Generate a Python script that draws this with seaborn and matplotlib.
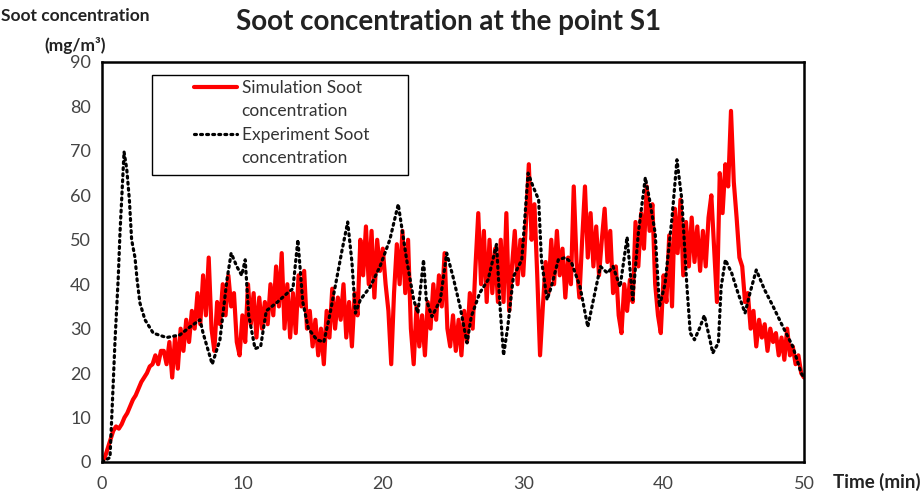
# Soot concentration at point S1: simulation vs experiment
import numpy as np
import pandas as pd
import matplotlib
matplotlib.use("Agg")
import matplotlib.pyplot as plt
from matplotlib.lines import Line2D
from matplotlib.patches import Rectangle
import seaborn as sns

sim_step = 0.2
sim_values = [
    0, 1, 3, 5, 7, 8, 7.5, 8.5, 10, 11, 12.5, 14, 15, 16.5, 18, 19, 20, 21.5, 22, 24,
    22, 25, 25, 22, 27, 19, 28, 21, 30, 25, 32, 27, 34, 30, 38, 31,             # 0 - 7
    42, 33, 46, 30, 25, 36, 31, 40, 33, 42, 35, 38, 27, 24, 33, 27, 40, 31, 38, 28,
    37, 30, 36, 31, 40, 33, 44, 35, 47, 30, 40, 28, 38, 29, 42,                 # 7.2 - 14
    35, 43, 30, 34, 26, 32, 24, 30, 22, 34, 28, 39, 30, 37, 32, 40, 28, 36, 26, 38,
    33, 50, 42, 53, 40, 52, 37, 50, 43, 48, 40, 34, 22, 38, 49, 40,             # 14.2 - 21.2
    52, 38, 50, 30, 22, 35, 26, 33, 24, 36, 30, 40, 32, 42, 35, 47, 30, 26, 33, 25,
    32, 24, 34, 27, 38, 30, 44, 56, 40, 52, 36, 50, 38, 48, 36, 50,             # 21.4 - 28.4
    36, 56, 34, 44, 52, 40, 50, 42, 54, 67, 50, 58, 42, 24, 35, 45, 38, 50, 40, 52,
    42, 48, 37, 46, 40, 62, 45, 37, 50, 62, 46, 56, 44, 53, 42,                 # 28.6 - 35.4
    50, 57, 45, 52, 38, 44, 33, 29, 40, 34, 41, 36, 54, 44, 56, 48, 62, 52, 58, 40,
    33, 29, 42, 36, 51, 35, 57, 47, 59, 42, 54, 44, 55, 45, 53, 43,             # 35.6 - 42.6
    52, 44, 55, 60, 48, 36, 65, 56, 67, 62, 79, 63, 55, 46, 44, 36, 38, 30, 34, 26,
    32, 28, 31, 25, 30, 27, 29, 24, 28, 23, 30, 24, 26, 22, 24, 20, 19,         # 42.8 - 50
]
sim_time = np.arange(len(sim_values)) * sim_step

# experiment (time in min, concentration)
exp_time = [
    0.0, 0.57, 0.8, 0.93, 1.16, 1.28, 1.4, 1.57, 1.76, 1.95, 2.11, 2.35, 2.5, 2.7, 3.06,
    3.65, 4.6, 5.55, 6.27, 6.98, 7.2, 7.85, 8.4, 8.9, 9.2, 9.6, 9.95, 10.2, 10.45, 10.9,
    11.3, 11.7, 12.5, 13.2, 13.6, 13.95, 14.3, 14.7, 15.3, 15.8, 16.2, 16.7, 17.1, 17.5,
    17.8, 18.05, 18.4, 19.1, 19.8, 20.5, 21.1, 21.7, 22.2, 22.5, 22.9, 23.1, 23.5, 24.1,
    24.55, 25.0, 25.5, 26.0, 26.3, 26.9, 27.5, 28.1, 28.35, 28.6, 28.9, 29.3, 29.9, 30.35,
    30.7, 31.1, 31.3, 31.7, 32.0, 32.5, 33.0, 33.45, 34.05, 34.6, 35.0, 35.5, 36.0, 36.4,
    36.9, 37.4, 37.8, 38.2, 38.7, 39.0, 39.4, 39.7, 40.1, 40.6, 40.95, 41.3, 41.65, 41.9,
    42.2, 42.6, 42.9, 43.3, 43.5, 43.9, 44.1, 44.4, 44.85, 45.3, 45.8, 46.15, 46.6, 47.2,
    47.8, 48.5, 49.2, 49.8, 50.0,
]
exp_values = [
    0, 1, 17.8, 27.5, 41.7, 51.5, 59, 69.8, 66, 59, 50, 46, 41, 35.8, 32,
    29, 28, 28.6, 30.4, 32, 29, 22, 27.5, 41, 47, 44, 42, 45.5, 33, 25.5,
    26, 34, 36, 38, 39, 50, 36, 30, 27.5, 27, 32.7, 41, 47.7, 54,
    45, 33.5, 36.5, 39.4, 44, 50, 58, 45.5, 36.5, 33.5, 45.5, 36.5, 32.7, 36.5,
    47, 41.7, 35, 26.8, 32.7, 38, 41, 49, 35, 24, 30.4, 41.7, 45.5, 65,
    62, 59, 45.5, 36.5, 39.4, 45.5, 46, 44.8, 39.4, 30.4, 36.5, 44, 42.5, 44,
    39.4, 50.6, 36.5, 51.5, 64, 59, 51.5, 35, 40, 55, 68, 59, 40, 29,
    27.5, 30.4, 33, 27.5, 24.5, 26.8, 39.4, 45.5, 42.5, 38, 33.5, 38, 43.2, 38.7,
    35, 30.4, 26, 20, 19,
]

x_ticks = [0, 10, 20, 30, 40, 50]
y_ticks = [0, 10, 20, 30, 40, 50, 60, 70, 80, 90]

sim = pd.DataFrame({"time": sim_time, "soot": sim_values})
exp = pd.DataFrame({"time": exp_time, "soot": exp_values})

sns.set_style("white")
plt.rcParams["font.family"] = ["Lato", "DejaVu Sans"]

fig = plt.figure(figsize=(9.22, 4.95), dpi=100)
ax = fig.add_axes([102 / 922, 1 - 462 / 495, 702 / 922, 400 / 495])

sim_style = dict(color="#ff0000", linewidth=3.0)
exp_style = dict(color="black", linewidth=2.3, linestyle=(0, (0.6, 1.3)), dash_capstyle="round")

sns.lineplot(data=sim, x="time", y="soot", ax=ax, sort=False, estimator=None,
             legend=False, **sim_style)
sns.lineplot(data=exp, x="time", y="soot", ax=ax, sort=False, estimator=None,
             legend=False, **exp_style)

ax.set_xlim(0, 50)
ax.set_ylim(0, 90)
ax.set_xticks(x_ticks)
ax.set_yticks(y_ticks)
ax.set_xlabel("")
ax.set_ylabel("")
ax.tick_params(axis="both", direction="in", length=6, width=1, colors="#444444",
               labelsize=13, pad=8)
ax.tick_params(axis="x", pad=10)
for s in ax.spines.values():
    s.set_color("black")
    s.set_linewidth(1.8)

# legend: box drawn separately, first text line next to each handle
ax.add_patch(Rectangle((50 / 702, 287 / 400), 256 / 702, 100 / 400, transform=ax.transAxes,
                       facecolor="white", edgecolor="black", linewidth=1.0, zorder=4))
blank = Line2D([], [], color="none")
handles = [Line2D([], [], **sim_style), blank, Line2D([], [], **exp_style), blank]
labels = ["Simulation Soot", "concentration", "Experiment Soot", "concentration"]
leg = ax.legend(handles, labels, loc="upper left", bbox_to_anchor=(92 / 702, 382 / 400),
                frameon=False, fontsize=12.5, handlelength=2.45, labelspacing=0.42,
                borderpad=0, borderaxespad=0, handletextpad=0.3, labelcolor="#333333")
leg.set_zorder(5)

fig.text(449 / 922, 1 - 22 / 495, "Soot concentration at the point S1", ha="center",
         va="center", fontsize=20, fontweight="bold", color="#222222")
fig.text(75 / 922, 1 - 16 / 495, "Soot concentration", ha="center", va="center",
         fontsize=12.5, fontweight="bold", color="#222222")
fig.text(75 / 922, 1 - 45 / 495, "(mg/m³)", ha="center", va="center",
         fontsize=12.5, fontweight="bold", color="#222222")
fig.text(877 / 922, 1 - 482 / 495, "Time (min)", ha="center", va="center",
         fontsize=13.5, fontweight="bold", color="#222222")

fig.savefig("out.png", dpi=100)
